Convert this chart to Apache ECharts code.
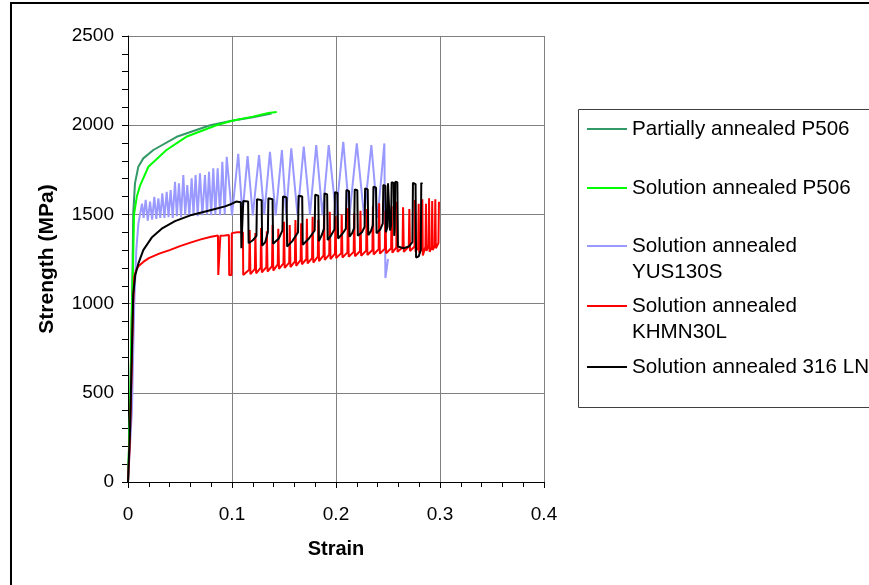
<!DOCTYPE html>
<html><head><meta charset="utf-8">
<script src="https://cdn.jsdelivr.net/npm/echarts@6/dist/echarts.min.js"></script>
<style>html,body{margin:0;padding:0;background:#fff}#c{width:869px;height:585px}</style>
</head><body><div id="c"></div>
<script>
// ---- Data (strain, strength MPa) ----
const seriesNames = ['Partially annealed P506', 'Solution annealed P506', 'Solution annealed YUS130S', 'Solution annealed KHMN30L', 'Solution annealed 316 LN'];
const legendLabels = ['Partially annealed P506', 'Solution annealed P506', 'Solution annealed\nYUS130S', 'Solution annealed\nKHMN30L', 'Solution annealed 316 LN'];
const seriesColors = ['#339966', '#00ff00', '#9999ff', '#ff0000', '#000000'];
const xTicks = [0, 0.1, 0.2, 0.3, 0.4];
const yTicks = [0, 500, 1000, 1500, 2000, 2500];

const partialP506 = [[0,0],[0.002,400],[0.0035,900],[0.0045,1250],[0.005,1500],[0.0067,1674],[0.0099,1767],[0.0147,1814],[0.0244,1861],[0.0468,1935],[0.079,2000],[0.1,2025],[0.12,2045],[0.138,2065]];

const solutionP506 = [[0,0],[0.002,400],[0.0035,900],[0.0048,1200],[0.0058,1500],[0.0085,1600],[0.0115,1660],[0.0196,1767],[0.037,1861],[0.056,1935],[0.085,2000],[0.1,2025],[0.12,2048],[0.135,2068],[0.143,2074]];

const yus130s = [[0,0],[0.0038,403],[0.006,1000],[0.008,1300],[0.01,1450],[0.0115,1497],[0.0135,1560],[0.015,1480],[0.017,1581],[0.019,1465],[0.0212,1571],[0.0232,1470],[0.0253,1599],[0.0272,1475],[0.0292,1590],[0.031,1480],[0.033,1618],[0.035,1480],[0.0372,1627],[0.039,1485],[0.041,1637],[0.043,1480],[0.0452,1683],[0.047,1490],[0.049,1674],[0.051,1485],[0.0532,1721],[0.055,1495],[0.057,1665],[0.059,1490],[0.0612,1702],[0.063,1495],[0.065,1721],[0.067,1490],[0.0692,1730],[0.0715,1495],[0.074,1721],[0.076,1500],[0.0779,1739],[0.08,1495],[0.082,1758],[0.084,1500],[0.0862,1758],[0.0885,1495],[0.0907,1795],[0.093,1500],[0.0949,1823],[0.1,1495],[0.106,1840],[0.11,1500],[0.115,1827],[0.12,1495],[0.126,1833],[0.131,1500],[0.1365,1851],[0.142,1495],[0.148,1861],[0.152,1500],[0.157,1870],[0.163,1495],[0.169,1880],[0.175,1500],[0.181,1889],[0.187,1495],[0.193,1889],[0.2,1500],[0.207,1907],[0.213,1495],[0.22,1898],[0.227,1490],[0.234,1889],[0.24,1480],[0.2465,1898],[0.2475,1143],[0.25,1250]];

const khmn30l = [[0,0],[0.0016,200],[0.003,500],[0.004,750],[0.005,1000],[0.006,1150],[0.008,1190],[0.01,1210],[0.015,1235],[0.02,1255],[0.03,1280],[0.04,1300],[0.05,1322],[0.06,1342],[0.07,1360],[0.08,1375],[0.0865,1382],
[0.0868,1160],[0.0885,1160],[0.0888,1380],[0.093,1382],[0.097,1385],[0.0973,1160],[0.0995,1160],[0.0998,1395],[0.105,1400],[0.1105,1400],[0.1108,1160],
[0.1165,1190],[0.117,1412],[0.1177,1165],[0.122,1195],[0.1225,1395],[0.1232,1170],[0.1275,1200],[0.128,1423],[0.1287,1175],[0.133,1205],[0.1335,1405],[0.1342,1180],
[0.1385,1210],[0.139,1440],[0.1397,1185],[0.144,1220],[0.1445,1420],[0.1452,1195],[0.1495,1225],[0.15,1459],[0.1507,1200],[0.155,1230],[0.1555,1440],[0.1562,1205],
[0.1605,1237],[0.161,1468],[0.1617,1212],[0.166,1245],[0.1665,1450],[0.1672,1220],[0.1715,1250],[0.172,1475],[0.1727,1225],[0.177,1255],[0.1775,1487],[0.1782,1230],
[0.1825,1263],[0.183,1470],[0.1837,1238],[0.188,1270],[0.1885,1495],[0.1892,1245],[0.1935,1275],[0.194,1515],[0.1947,1250],[0.199,1280],[0.1995,1490],[0.2002,1255],
[0.205,1283],[0.2055,1500],[0.2062,1258],[0.211,1287],[0.2115,1534],[0.2122,1262],[0.217,1290],[0.2175,1505],[0.2182,1265],[0.223,1293],[0.2235,1520],[0.2242,1268],
[0.229,1297],[0.2295,1530],[0.2302,1272],[0.235,1300],[0.2355,1545],[0.2362,1275],[0.241,1305],[0.2415,1562],[0.2422,1280],[0.247,1307],[0.2475,1520],[0.2482,1282],
[0.253,1310],[0.2535,1545],[0.2542,1285],[0.258,1315],[0.2585,1571],[0.2592,1290],[0.264,1315],[0.2645,1540],[0.2652,1290],[0.27,1320],[0.2705,1530],[0.2712,1295],
[0.2755,1320],[0.276,1580],[0.2765,1290],[0.279,1315],[0.2795,1560],[0.28,1285],[0.2825,1310],[0.283,1585],[0.2835,1270],[0.286,1320],[0.2865,1560],[0.287,1295],
[0.289,1325],[0.2895,1590],[0.29,1290],[0.292,1315],[0.2925,1575],[0.293,1300],[0.295,1325],[0.2955,1585],[0.296,1310],[0.2985,1340],[0.299,1571]];

const sa316ln = [[0,0],[0.002,300],[0.004,800],[0.005,1050],[0.007,1160],[0.01,1225],[0.0147,1300],[0.0228,1370],[0.0324,1420],[0.0452,1462],[0.0612,1497],[0.0772,1520],[0.0933,1545],[0.1,1560],[0.104,1572],[0.1085,1568],
[0.109,1311],[0.1105,1315],[0.1108,1575],[0.1155,1572],
[0.116,1338],[0.12,1355],[0.1235,1380],[0.124,1585],[0.1285,1580],
[0.129,1325],[0.132,1345],[0.1345,1400],[0.135,1590],[0.139,1585],
[0.1395,1335],[0.145,1365],[0.1485,1410],[0.149,1600],[0.1525,1595],
[0.153,1320],[0.158,1350],[0.1635,1400],[0.164,1605],[0.1675,1600],
[0.168,1330],[0.174,1365],[0.1795,1410],[0.18,1610],[0.183,1605],
[0.1835,1350],[0.186,1380],[0.1885,1420],[0.189,1618],[0.1915,1612],
[0.192,1356],[0.195,1380],[0.1985,1415],[0.199,1625],[0.2015,1620],
[0.202,1365],[0.206,1390],[0.2095,1420],[0.21,1637],[0.2125,1630],
[0.213,1375],[0.2155,1395],[0.2175,1425],[0.218,1640],[0.2205,1635],
[0.221,1380],[0.225,1400],[0.2275,1430],[0.228,1646],[0.2305,1640],
[0.231,1384],[0.2335,1405],[0.2355,1440],[0.236,1655],[0.2385,1650],
[0.239,1394],[0.2425,1415],[0.245,1450],[0.2455,1665],[0.2475,1660],
[0.248,1400],[0.2495,1430],[0.25,1674],[0.2515,1668],
[0.252,1410],[0.253,1440],[0.2535,1680],[0.2555,1675],
[0.256,1380],[0.2565,1420],[0.257,1683],[0.259,1680],
[0.2595,1320],[0.265,1310],[0.27,1320],[0.2735,1345],[0.274,1677],[0.2765,1670],
[0.277,1258],[0.2795,1265],[0.2815,1300],[0.282,1677],[0.283,1670]];

const seriesData = [partialP506, solutionP506, yus130s, khmn30l, sa316ln];

// ---- Chart ----
const FONT = "'Liberation Sans', Arial, sans-serif";
const chart = echarts.init(document.getElementById('c'), null, {renderer: 'canvas'});

const legendTops = [116, 175, 207, 267, 354];
const legends = seriesNames.map((n, i) => {
  const multi = legendLabels[i].indexOf('\n') >= 0;
  return {
    data: [n], left: 587, top: legendTops[i], orient: 'vertical', padding: 0,
    itemWidth: 40, itemHeight: 2, icon: 'rect', selectedMode: false,
    // leading blank line keeps the first text line level with the legend line
    formatter: () => (multi ? '\u00a0\n' : '') + legendLabels[i],
    textStyle: {fontFamily: FONT, fontSize: 20.6, color: '#000', lineHeight: 26}
  };
});

const option = {
  animation: false,
  backgroundColor: '#fff',
  grid: {left: 128, top: 36, width: 416, height: 446, containLabel: false},
  legend: legends,
  xAxis: {
    type: 'value', min: xTicks[0], max: xTicks[xTicks.length - 1], interval: 0.1,
    name: 'Strain', nameLocation: 'middle', nameGap: 57,
    nameTextStyle: {fontFamily: FONT, fontSize: 20, fontWeight: 'bold', color: '#000'},
    axisLine: {show: true, onZero: false, lineStyle: {color: '#000', width: 1}},
    axisTick: {show: true, length: 6, lineStyle: {color: '#000'}},
    minorTick: {show: true, splitNumber: 5, length: 5, lineStyle: {color: '#000'}},
    splitLine: {show: true, lineStyle: {color: '#808080', width: 1}},
    axisLabel: {fontFamily: FONT, fontSize: 19, color: '#000', margin: 23, formatter: v => String(v)}
  },
  yAxis: {
    type: 'value', min: yTicks[0], max: yTicks[yTicks.length - 1], interval: 500,
    name: 'Strength (MPa)', nameLocation: 'middle', nameGap: 70,
    nameTextStyle: {fontFamily: FONT, fontSize: 21, fontWeight: 'bold', color: '#000'},
    axisLine: {show: true, onZero: false, lineStyle: {color: '#000', width: 1}},
    axisTick: {show: true, length: 6, lineStyle: {color: '#000'}},
    minorTick: {show: true, splitNumber: 5, length: 6, lineStyle: {color: '#000'}},
    splitLine: {show: true, lineStyle: {color: '#808080', width: 1}},
    axisLabel: {fontFamily: FONT, fontSize: 19, color: '#000', margin: 14, formatter: v => String(v)}
  },
  series: seriesNames.map((n, i) => ({
    name: n, type: 'line', data: seriesData[i], showSymbol: false, symbol: 'none',
    color: seriesColors[i],
    lineStyle: {color: seriesColors[i], width: 2},
    itemStyle: {color: seriesColors[i]},
    clip: true
  })),
  graphic: [
    {type: 'rect', shape: {x: 11, y: 3, width: 900, height: 700}, style: {fill: 'none', stroke: '#000', lineWidth: 2}, silent: true},
    {type: 'rect', shape: {x: 578.5, y: 109.5, width: 400, height: 298}, style: {fill: 'none', stroke: '#404040', lineWidth: 1}, silent: true}
  ]
};
chart.setOption(option);
</script>
</body></html>
